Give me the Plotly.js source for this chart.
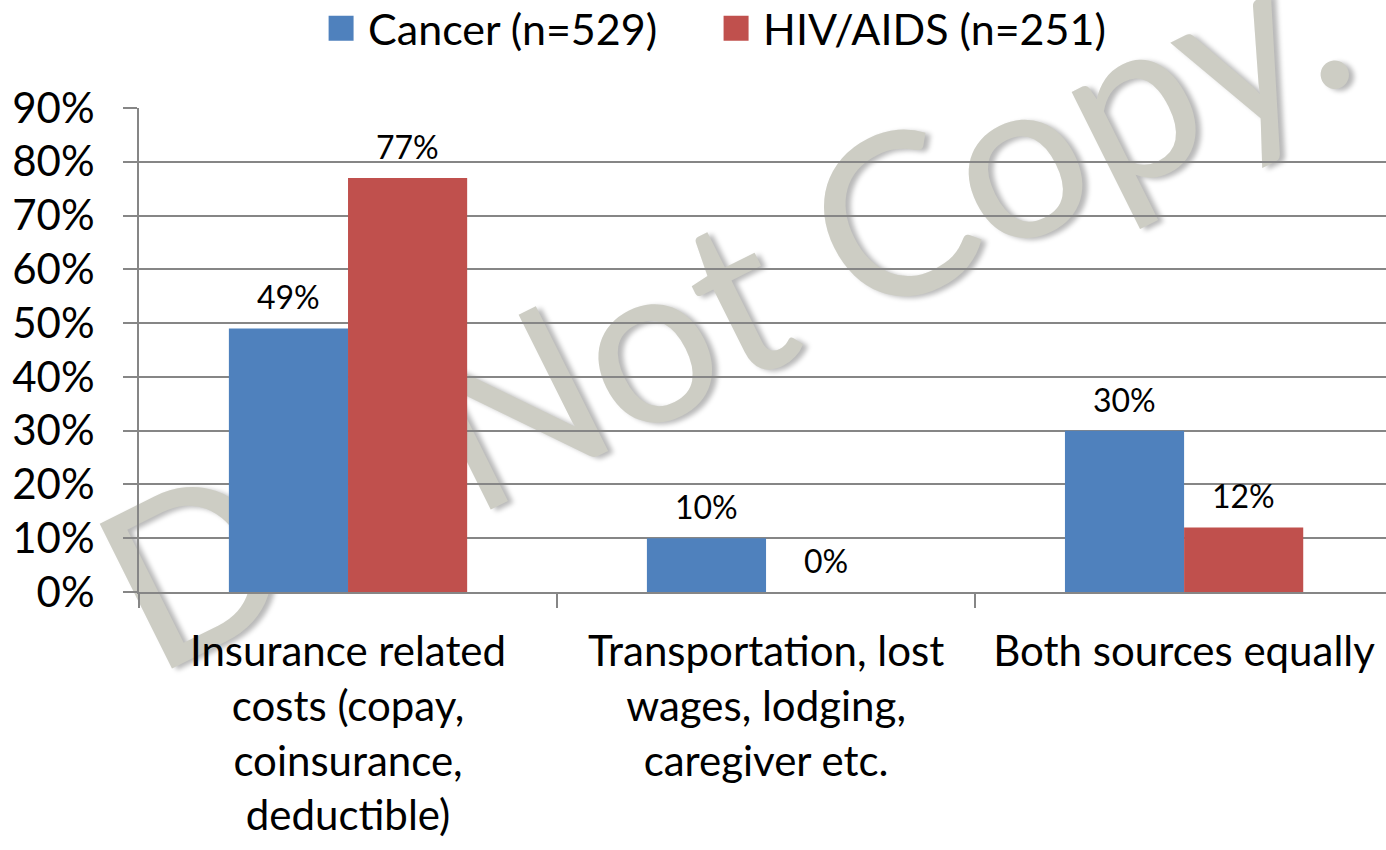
<!DOCTYPE html>
<html>
<head>
<meta charset="utf-8">
<script src="https://cdn.plot.ly/plotly-3.0.1.min.js"></script>
<style>
  html, body { margin:0; padding:0; background:#fff; }
  #wrap { position:relative; width:1386px; height:850px; overflow:hidden; }
  #mark {
    position:absolute; left:720px; top:298px;
    transform: translate(-50%,-50%) rotate(-26.5deg);
    font-family: Lato, sans-serif; font-size:226px; line-height:1;
    white-space:nowrap; color:#cdcdc4;
    text-shadow: 4px 4px 5px rgba(0,0,0,0.28);
    z-index:0;
  }
  #chart { position:absolute; left:0; top:0; width:1386px; height:850px; z-index:1; }
</style>
</head>
<body>
<div id="wrap">
  <div id="mark">Do Not Copy.</div>
  <div id="chart"></div>
</div>
<script>
// categories and series
const categories = [
  'Insurance related<br>costs (copay,<br>coinsurance,<br>deductible)',
  'Transportation, lost<br>wages, lodging,<br>caregiver etc.',
  'Both sources equally'
];
const seriesNames = ['Cancer (n=529)', 'HIV/AIDS (n=251)'];
const cancerVals = [0.49, 0.10, 0.30];
const hivVals    = [0.77, 0.00, 0.12];
const yTicks = [0, 0.1, 0.2, 0.3, 0.4, 0.5, 0.6, 0.7, 0.8, 0.9];

const colors = ['#4F81BD', '#C0504D'];
const gridCol = '#868686';
const FONT = 'Lato, sans-serif';

const series = [cancerVals, hivVals];

const traces = series.map((vals, i) => ({
  type: 'bar',
  name: seriesNames[i],
  x: categories,
  y: vals,
  marker: { color: colors[i], line: { width: 0 } },
  hoverinfo: 'skip'
}));

// value labels above each bar
const labelShift = [-59.5, 59.5];
const annotations = [];
series.forEach((vals, i) => {
  vals.forEach((v, j) => {
    annotations.push({
      x: categories[j], y: v, xref: 'x', yref: 'y',
      xshift: labelShift[i], yshift: 10,
      yanchor: 'bottom', showarrow: false,
      text: Math.round(v * 100) + '%',
      font: { family: FONT, size: 32, color: '#000' }
    });
  });
});

const layout = {
  width: 1386, height: 850,
  margin: { l: 139, r: 0, t: 108, b: 258, autoexpand: false },
  paper_bgcolor: 'rgba(0,0,0,0)',
  plot_bgcolor: 'rgba(0,0,0,0)',
  font: { family: FONT, size: 42, color: '#000' },
  barmode: 'group',
  bargap: 0.43,
  bargroupgap: 0,
  showlegend: true,
  legend: {
    orientation: 'h', xref: 'container', yref: 'paper',
    x: 0.5217, xanchor: 'center', y: 1.236, yanchor: 'top',
    entrywidth: 350,
    font: { family: FONT, size: 43, color: '#000' },
    itemclick: false, itemdoubleclick: false,
    traceorder: 'normal'
  },
  xaxis: {
    type: 'category',
    range: [-0.5, 2.483],
    showline: true, linecolor: gridCol, linewidth: 2,
    ticks: 'outside', tickson: 'boundaries', ticklen: 14,
    tickcolor: gridCol, tickwidth: 2,
    showgrid: false, zeroline: false,
    ticklabelstandoff: 22,
    tickfont: { family: FONT, size: 42, color: '#000' },
    fixedrange: true
  },
  yaxis: {
    range: [0, 0.9],
    tickvals: yTicks,
    tickformat: '.0%',
    showline: true, linecolor: gridCol, linewidth: 2,
    ticks: 'outside', ticklen: 14, tickcolor: gridCol, tickwidth: 2,
    showgrid: true, gridcolor: gridCol, gridwidth: 2,
    zeroline: false,
    ticklabelstandoff: 20,
    tickfont: { family: FONT, size: 42, color: '#000' },
    fixedrange: true
  },
  annotations: annotations
};

Plotly.newPlot('chart', traces, layout, { displayModeBar: false, staticPlot: true }).then(() => {
  // bigger legend squares, set a little left of the text, like the original
  document.querySelectorAll('#chart .legendpoints path').forEach(p => {
    p.setAttribute('d', 'M5.5,12.5H-19.5V-12.5H5.5Z');
  });
});
</script>
</body>
</html>
